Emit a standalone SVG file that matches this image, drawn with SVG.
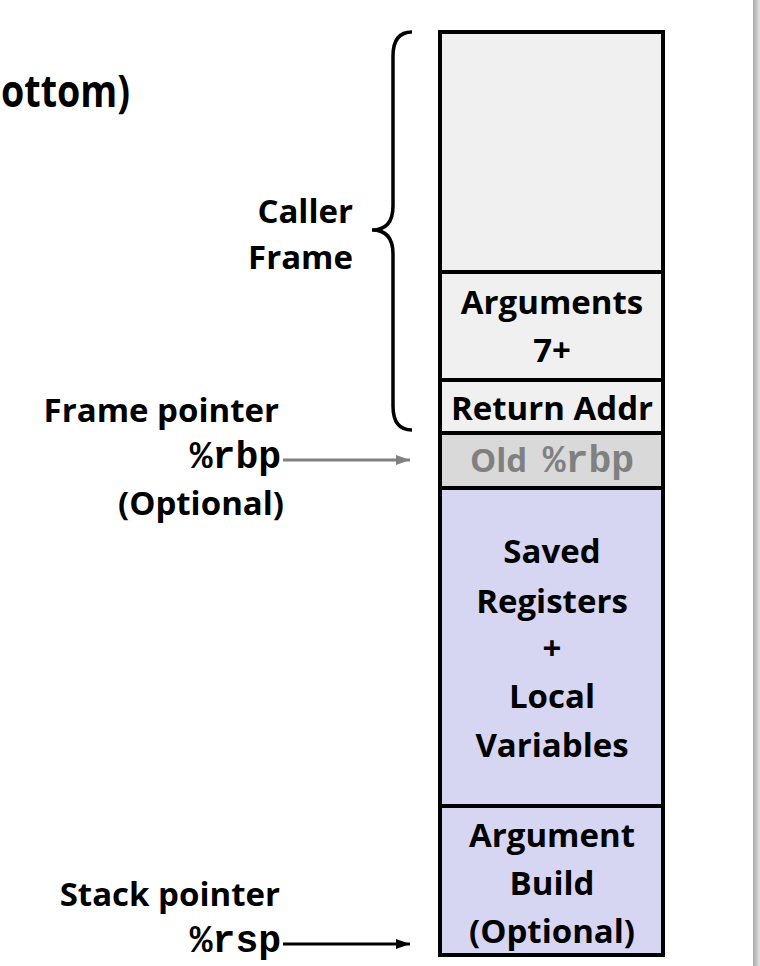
<svg xmlns="http://www.w3.org/2000/svg" width="760" height="966" viewBox="0 0 760 966">
<defs>
<linearGradient id="edge" x1="0" y1="0" x2="1" y2="0">
<stop offset="0" stop-color="#a8a8a8"/>
<stop offset="1" stop-color="#e4e4e4"/>
</linearGradient>
<marker id="ahGray" markerWidth="14" markerHeight="10" refX="14" refY="5" orient="auto" markerUnits="userSpaceOnUse">
<path d="M0,0 L14,5 L0,10 Z" fill="#808080"/>
</marker>
<marker id="ahBlack" markerWidth="14" markerHeight="10" refX="14" refY="5" orient="auto" markerUnits="userSpaceOnUse">
<path d="M0,0 L14,5 L0,10 Z" fill="#000"/>
</marker>
</defs>
<style>
.t{font-family:"Open Sans","Noto Sans","Liberation Sans",sans-serif;font-weight:bold;font-size:33px;fill:#000}
.m{font-family:"Liberation Mono","DejaVu Sans Mono",monospace;font-weight:bold;font-size:38px}
.box{stroke:#000;stroke-width:4}
.light{fill:#f0f0f0}
.old{fill:#d9d9d9}
.lav{fill:#d6d6f3}
.c{text-anchor:middle}
.r{text-anchor:end}
</style>
<rect width="760" height="966" fill="#fff"/>
<rect x="753" y="0" width="7" height="966" fill="url(#edge)"/>
<g id="title"><text class="t" x="1" y="107" style="font-size:44px" textLength="129" lengthAdjust="spacingAndGlyphs">ottom)</text></g>
<g id="caller-frame">
<path d="M412,32 Q393,32 393,56 L393,206 Q393,230 372,230 Q393,230 393,254 L393,406 Q393,430 412,430" fill="none" stroke="#000" stroke-width="3.5"/>
<text class="t r" x="353" y="223">Caller</text>
<text class="t r" x="353" y="269">Frame</text>
</g>
<g id="caller-top"><rect class="box light" x="440" y="32" width="223" height="240"/></g>
<g id="arguments"><rect class="box light" x="440" y="272" width="223" height="108"/>
<text class="t c" x="552" y="314">Arguments</text><text class="t c" x="552" y="362">7+</text></g>
<g id="return-addr"><rect class="box light" x="440" y="380" width="223" height="53"/>
<text class="t c" x="552" y="420">Return Addr</text></g>
<g id="old-rbp"><rect class="box old" x="440" y="433" width="223" height="55"/>
<text class="c" x="552" y="472" fill="#808080"><tspan class="t" style="fill:#808080">Old </tspan><tspan class="m" dx="7">%rbp</tspan></text></g>
<g id="saved-regs"><rect class="box lav" x="440" y="488" width="223" height="318"/>
<text class="t c" x="552" y="563">Saved</text><text class="t c" x="552" y="613">Registers</text><text class="t c" x="552" y="660">+</text><text class="t c" x="552" y="708">Local</text><text class="t c" x="552" y="757">Variables</text></g>
<g id="arg-build"><rect class="box lav" x="440" y="806" width="223" height="149"/>
<text class="t c" x="552" y="847">Argument</text><text class="t c" x="552" y="895">Build</text><text class="t c" x="552" y="943">(Optional)</text></g>
<g id="frame-pointer">
<text class="t r" x="279" y="422">Frame pointer</text>
<text class="m r" x="281" y="468">%rbp</text>
<text class="t r" x="284" y="515">(Optional)</text>
</g>
<g id="stack-pointer">
<text class="t r" x="280" y="906">Stack pointer</text>
<text class="m r" x="281" y="952">%rsp</text>
</g>
<g id="connectors">
<line x1="283" y1="460" x2="410" y2="460" stroke="#808080" stroke-width="3" marker-end="url(#ahGray)"/>
<line x1="283" y1="944" x2="410" y2="944" stroke="#000" stroke-width="3" marker-end="url(#ahBlack)"/>
</g>
</svg>
